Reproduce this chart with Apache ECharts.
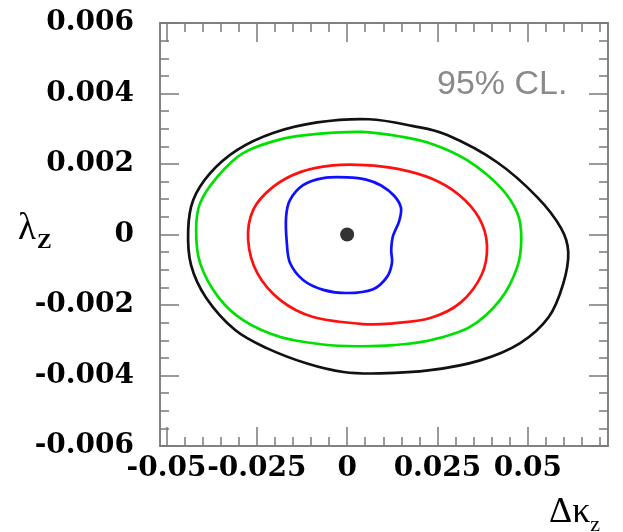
<!DOCTYPE html>
<html>
<head>
<meta charset="utf-8">
<script src="https://cdn.jsdelivr.net/npm/echarts@6/dist/echarts.min.js"></script>
<style>html,body{margin:0;padding:0;background:#fff}#chart{width:623px;height:532px}</style>
</head>
<body>
<div id="chart"></div>
<script>
// ---- axis ticks ----
const xMajorTicks = [-0.05, -0.025, 0, 0.025, 0.05];
const xTickLabels = ['-0.05', '-0.025', '0', '0.025', '0.05'];
const xMinorTicks = [-0.05, -0.045, -0.04, -0.035, -0.03, -0.025, -0.02, -0.015, -0.01, -0.005, 0,
  0.005, 0.01, 0.015, 0.02, 0.025, 0.03, 0.035, 0.04, 0.045, 0.05, 0.055, 0.06, 0.065, 0.07];
const yMajorTicks = [-0.006, -0.004, -0.002, 0, 0.002, 0.004, 0.006];
const yTickLabels = ['-0.006', '-0.004', '-0.002', '0', '0.002', '0.004', '0.006'];
const yMinorTicks = [-0.006, -0.0055, -0.005, -0.0045, -0.004, -0.0035, -0.003, -0.0025, -0.002, -0.0015,
  -0.001, -0.0005, 0, 0.0005, 0.001, 0.0015, 0.002, 0.0025, 0.003, 0.0035, 0.004, 0.0045, 0.005, 0.0055, 0.006];
const xRange = [-0.0518, 0.0722];
const yRange = [-0.006, 0.006];

// ---- contours (delta kappa_Z, lambda_Z), 95% CL, closed curves ----
const blackContour = [
  [-0.0440, 0.00013], [-0.0426, 0.00098], [-0.0379, 0.00174], [-0.0304, 0.00240], [-0.0205, 0.00288],
  [-0.0083, 0.00318], [0.0060, 0.00327], [0.0180, 0.00308], [0.0277, 0.00282], [0.0415, 0.00205],
  [0.0526, 0.00106], [0.0592, 0.00018], [0.0612, -0.00050], [0.0598, -0.00140], [0.0558, -0.00234],
  [0.0479, -0.00308], [0.0368, -0.00357], [0.0230, -0.00385], [0.0091, -0.00394], [-0.0010, -0.00390],
  [-0.0111, -0.00366], [-0.0221, -0.00323], [-0.0310, -0.00271], [-0.0390, -0.00180], [-0.0432, -0.00087]
];
const greenContour = [
  [-0.0418, 0.00013], [-0.0407, 0.00089], [-0.0360, 0.00163], [-0.0288, 0.00231], [-0.0177, 0.00272],
  [-0.0075, 0.00286], [0.0040, 0.00291], [0.0147, 0.00278], [0.0235, 0.00257], [0.0332, 0.00211],
  [0.0423, 0.00135], [0.0471, 0.00061], [0.0482, -0.00010], [0.0471, -0.00092], [0.0423, -0.00186],
  [0.0340, -0.00262], [0.0230, -0.00300], [0.0127, -0.00314], [0.0028, -0.00317], [-0.0067, -0.00312],
  [-0.0185, -0.00291], [-0.0288, -0.00243], [-0.0357, -0.00177], [-0.0407, -0.00081]
];
const redContour = [
  [-0.0274, -0.00016], [-0.0260, 0.00070], [-0.0205, 0.00135], [-0.0130, 0.00177], [-0.0040, 0.00196],
  [0.0050, 0.00197], [0.0140, 0.00186], [0.0235, 0.00158], [0.0310, 0.00112], [0.0365, 0.00047],
  [0.0387, -0.00030], [0.0372, -0.00115], [0.0313, -0.00194], [0.0230, -0.00237], [0.0127, -0.00252],
  [0.0044, -0.00254], [-0.0094, -0.00234], [-0.0185, -0.00186], [-0.0249, -0.00109]
];
const blueContour = [
  [-0.0169, 0.00050], [-0.0158, 0.00098], [-0.0122, 0.00140], [-0.0066, 0.00160], [0.0000, 0.00162],
  [0.0055, 0.00155], [0.0094, 0.00139], [0.0130, 0.00110], [0.0149, 0.00076], [0.0144, 0.00038],
  [0.0127, -0.00004], [0.0122, -0.00044], [0.0124, -0.00081], [0.0110, -0.00121], [0.0072, -0.00155],
  [0.0000, -0.00166], [-0.0066, -0.00157], [-0.0122, -0.00129], [-0.0158, -0.00081], [-0.0167, -0.00024]
];
const centralPoint = [[0, 0]];

// ---- styling helpers ----
const frameColor = '#7a7a7a';
const labelFont = { fontFamily: 'DejaVu Serif', fontWeight: 'bold', fontSize: 28, color: '#000' };
function lookup(values, labels) {
  return function (v) {
    let best = 0;
    for (let i = 1; i < values.length; i++) if (Math.abs(values[i] - v) < Math.abs(values[best] - v)) best = i;
    return labels[best];
  };
}
function axis(dim, position, ticks, len, labels) {
  const rng = dim === 'x' ? xRange : yRange;
  const a = {
    type: 'value', position: position, min: rng[0], max: rng[1], scale: true,
    axisLine: { show: true, onZero: false, lineStyle: { color: frameColor, width: 1.5 } },
    axisTick: { show: true, inside: true, length: len, customValues: ticks, lineStyle: { color: frameColor, width: 1.5 } },
    splitLine: { show: false },
    axisLabel: { show: false }
  };
  if (labels) {
    a.axisLabel = Object.assign({
      show: true, customValues: ticks, margin: dim === 'x' ? 9 : 26,
      formatter: lookup(ticks, labels)
    }, labelFont);
  }
  return a;
}
// closed smooth curve through the contour points (positions come from the axes via api.coord)
const contourSeries = (name, data, color) => ({
  name: name, type: 'custom', data: data, z: 3,
  encode: { x: 0, y: 1 },
  renderItem: function (params, api) {
    if (params.dataIndex !== 0) return null;
    const pts = data.map(p => api.coord(p));
    const n = pts.length;
    let d = 'M' + pts[0][0] + ',' + pts[0][1];
    for (let i = 0; i < n; i++) {
      const p0 = pts[(i - 1 + n) % n], p1 = pts[i], p2 = pts[(i + 1) % n], p3 = pts[(i + 2) % n];
      d += ' C' + (p1[0] + (p2[0] - p0[0]) / 6) + ',' + (p1[1] + (p2[1] - p0[1]) / 6) + ' ' +
        (p2[0] - (p3[0] - p1[0]) / 6) + ',' + (p2[1] - (p3[1] - p1[1]) / 6) + ' ' + p2[0] + ',' + p2[1];
    }
    d += ' Z';
    return { type: 'path', shape: { pathData: d }, style: { fill: 'none', stroke: color, lineWidth: 2.7 } };
  }
});

const chart = echarts.init(document.getElementById('chart'), null, { renderer: 'canvas' });
chart.setOption({
  animation: false,
  backgroundColor: '#fff',
  grid: { left: 160, top: 23, right: 15, bottom: 86, containLabel: false },
  xAxis: [
    axis('x', 'bottom', xMajorTicks, 19, xTickLabels),
    axis('x', 'bottom', xMinorTicks, 9, null),
    axis('x', 'top', xMajorTicks, 19, null),
    axis('x', 'top', xMinorTicks, 9, null)
  ],
  yAxis: [
    axis('y', 'left', yMajorTicks, 19, yTickLabels),
    axis('y', 'left', yMinorTicks, 9, null),
    axis('y', 'right', yMajorTicks, 19, null),
    axis('y', 'right', yMinorTicks, 9, null)
  ],
  series: [
    contourSeries('black', blackContour, '#111111'),
    contourSeries('green', greenContour, '#00e000'),
    contourSeries('red', redContour, '#ff1010'),
    contourSeries('blue', blueContour, '#1010ff'),
    { name: 'central', type: 'scatter', data: centralPoint, symbol: 'circle', symbolSize: 14, itemStyle: { color: '#000' }, z: 4 }
  ],
  graphic: [
    {
      type: 'text', left: 437, top: 68, z: 10,
      style: { text: '95% CL.', fontFamily: 'Liberation Sans', fontSize: 34, fill: '#8a8a8a' }
    },
    {
      type: 'text', left: 18, top: 205, z: 10,
      style: {
        text: '{a|λ}{b|Z}',
        rich: {
          a: { fontFamily: 'Liberation Serif', fontSize: 37, fill: '#000', lineHeight: 37 },
          b: { fontFamily: 'Liberation Serif', fontWeight: 'bold', fontSize: 22, fill: '#000', lineHeight: 22, padding: [26, 0, 0, 1] }
        }
      }
    },
    {
      type: 'text', left: 549, top: 490, z: 10,
      style: {
        text: '{a|Δκ}{b|z}',
        rich: {
          a: { fontFamily: 'Liberation Serif', fontSize: 36, fill: '#000', lineHeight: 36 },
          b: { fontFamily: 'Liberation Serif', fontSize: 22, fill: '#000', lineHeight: 22, padding: [24, 0, 0, 0] }
        }
      }
    }
  ]
});
</script>
</body>
</html>
